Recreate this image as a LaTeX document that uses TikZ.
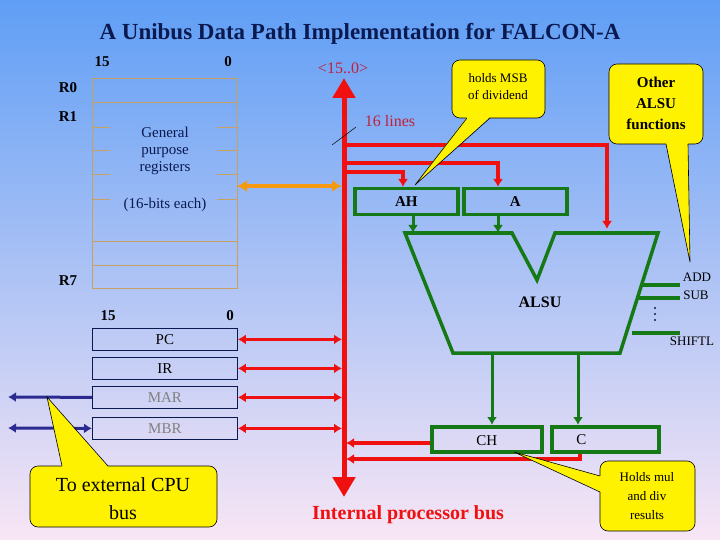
\documentclass[tikz,border=0pt]{standalone}
\usepackage{fontspec}
\setmainfont{Liberation Serif}
\usetikzlibrary{arrows.meta}
\definecolor{navy}{HTML}{0A1A50}
\definecolor{gr}{HTML}{157A15}
\definecolor{rd}{HTML}{F01010}
\definecolor{crim}{HTML}{C0203A}
\definecolor{tan}{HTML}{C8A060}
\definecolor{org}{HTML}{F59A10}
\definecolor{bl}{HTML}{2A2A90}
\tikzset{
 bus/.style={rd,line width=3.2pt,-{Latex[length=8pt,width=10pt]}},
 dbus/.style={rd,line width=3.2pt,{Latex[length=8pt,width=10pt]}-{Latex[length=8pt,width=10pt]}},
 gbox/.style={draw=gr,line width=3.5pt},
 garr/.style={gr,line width=3pt,-{Latex[length=8pt,width=10pt]}},
 reg/.style={draw=navy,line width=0.8pt,minimum width=145pt,minimum height=22pt,inner sep=0pt,font=\fontsize{15}{15}\selectfont},
 call/.style={fill=yellow,draw=black,line width=0.6pt,rounded corners=8pt},
 lbl/.style={font=\bfseries\fontsize{15}{15}\selectfont,text=black},
}
\begin{document}
\begin{tikzpicture}[x=1pt,y=-1pt]
\shade[top color={rgb,255:red,95;green,158;blue,245},bottom color={rgb,255:red,248;green,230;blue,245}] (0,0) rectangle (720,540);
\useasboundingbox (0,0) rectangle (720,540);
\node[font=\bfseries\fontsize{23}{23}\selectfont,text=navy] (title) at (360,34) {A Unibus Data Path Implementation for FALCON-A};
% register file
\draw[tan,line width=0.8pt] (92,78) rectangle (237,288);
\foreach \y in {102,241,265} \draw[tan,line width=0.8pt] (92,\y)--(237,\y);
\foreach \y in {127,150,174,199} {\draw[tan,line width=0.8pt] (92,\y)--(110,\y); \draw[tan,line width=0.8pt] (217,\y)--(237,\y);}
\node[lbl] (b15) at (102,62) {15};
\node[lbl] (b0) at (228,62) {0};
\node[lbl] (r0) at (68,88) {R0};
\node[lbl] (r1) at (68,117) {R1};
\node[lbl] (r7) at (68,281) {R7};
\node[align=center,font=\fontsize{15}{17}\selectfont,text=navy] (gpr) at (165,151) {General\\purpose\\registers};
\node[font=\fontsize{15}{15}\selectfont,text=navy] (bits) at (165,205) {(16-bits each)};
\coordinate (rfr) at (237,186);
% bus
\coordinate (bt) at (344,78);
\coordinate (bb) at (344,497);
\draw[rd,line width=5pt,-{Triangle[length=20pt,width=22pt]}] (344,300)--(bt);
\draw[rd,line width=5pt,-{Triangle[length=20pt,width=22pt]}] (344,290)--(bb);
\draw[org,line width=3.5pt,{Latex[length=10pt,width=12pt]}-{Latex[length=10pt,width=12pt]}] (rfr)--(342,186);
\node[text=crim,font=\fontsize{16}{16}\selectfont] (w) at (343,68) {<15..0>};
\node[text=crim,font=\fontsize{16}{16}\selectfont] (lines) at (390,121) {16 lines};
\draw[black,line width=0.5pt] (332,145)--(356,127);
% AH, A
\node[gbox,minimum width=103pt,minimum height=26pt,inner sep=0pt,anchor=north west,font=\bfseries\fontsize{15}{15}\selectfont] (ah) at (353,187) {AH};
\node[gbox,minimum width=103pt,minimum height=26pt,inner sep=0pt,anchor=north west,font=\bfseries\fontsize{15}{15}\selectfont] (a) at (462,187) {A};
\draw[bus] (344,145)-|(607,229);
\draw[bus] (344,163)-|(a.north-|498,0);
\draw[bus] (344,172)-|(ah.north-|403,0);
% ALSU
\draw[gr,line width=3.5pt,line join=miter] (405,233)--(512,233)--(537,280)--(555,233)--(658,233)--(620,353)--(453,353)--cycle;
\node[font=\bfseries\fontsize{16}{16}\selectfont] (alsu) at (540,302) {ALSU};
\draw[garr] (ah.south-|413,0)--(413,233);
\draw[garr] (a.south-|498,0)--(498,233);
\draw[gr,line width=3.5pt] (643,285)--(680,285) (639,298)--(680,298) (632,333)--(680,333);
\node[font=\fontsize{13}{13}\selectfont] (add) at (697,277) {ADD};
\node[font=\fontsize{13}{13}\selectfont] (sub) at (696,295) {SUB};
\node[font=\fontsize{13}{13}\selectfont] (shl) at (692,341) {SHIFTL};
\foreach \y in {308,314,320} \fill[navy] (655,\y) circle (1.2pt);
% CH, C
\node[gbox,minimum width=110pt,minimum height=25pt,inner sep=0pt,anchor=north west,font=\fontsize{15}{15}\selectfont,text depth=0pt] (ch) at (430,425) {\raisebox{-3pt}{CH}};
\node[gbox,minimum width=107pt,minimum height=25pt,inner sep=0pt,anchor=north west,font=\fontsize{15}{15}\selectfont] (c) at (550,425) {\hspace*{-48pt}C};
\draw[garr] (492,353)--(ch.north-|492,0);
\draw[garr] (578,353)--(c.north-|578,0);
\draw[bus] (ch.west|-0,443)--(346,443);
\draw[bus] (c.south-|580,0)|-(346,459);
% registers
\node[reg,anchor=north west] (pc) at (92,328) {PC};
\node[reg,anchor=north west] (ir) at (92,357) {IR};
\node[reg,anchor=north west,text=gray] (mar) at (92,386) {MAR};
\node[reg,anchor=north west,text=gray] (mbr) at (92,417) {MBR};
\node[lbl] (p15) at (108,316) {15};
\node[lbl] (p0) at (230,316) {0};
\foreach \r in {pc,ir,mar,mbr} \draw[dbus] (\r.east)--(\r.east-|342,0);
\coordinate (ext1) at (8,397);
\coordinate (ext2) at (8,428);
\draw[bl,line width=3pt,-{Latex[length=8pt,width=10pt]}] (mar.west)--(ext1);
\draw[bl,line width=3pt,{Latex[length=8pt,width=10pt]}-{Latex[length=8pt,width=10pt]}] (ext2)--(mbr.west);
% callouts
\draw[call] (30,466) rectangle (217,527);
\fill[yellow] (62,467)--(47,397)--(108,467)--cycle;
\draw[black,line width=0.6pt] (62,466)--(47,397)--(108,466);
\node[align=center,font=\fontsize{20}{28}\selectfont] (ext) at (123,499) {To external CPU\\bus};
\draw[call] (452,60) rectangle (545,118);
\fill[yellow] (467,117)--(415,185)--(490,117)--cycle;
\draw[black,line width=0.6pt] (467,118)--(415,185)--(490,118);
\node[align=center,font=\fontsize{13}{17}\selectfont] (msb) at (498,87) {holds MSB\\of dividend};
\draw[call] (609,64) rectangle (703,144);
\fill[yellow] (666,143)--(690,262)--(688,143)--cycle;
\draw[black,line width=0.6pt] (666,144)--(690,262)--(688,144);
\node[align=center,font=\bfseries\fontsize{15}{21}\selectfont] (oth) at (656,103) {Other\\ALSU\\functions};
\draw[call] (600,461) rectangle (695,531);
\fill[yellow] (601,476)--(514,452)--(601,492)--cycle;
\draw[black,line width=0.6pt] (600,476)--(514,452)--(600,492);
\node[align=center,font=\fontsize{13}{19}\selectfont] (mul) at (647,496) {Holds mul\\and div\\results};
\node[text=rd,font=\bfseries\fontsize{20}{20}\selectfont] (ipb) at (408,515) {Internal processor bus};
\end{tikzpicture}
\end{document}
